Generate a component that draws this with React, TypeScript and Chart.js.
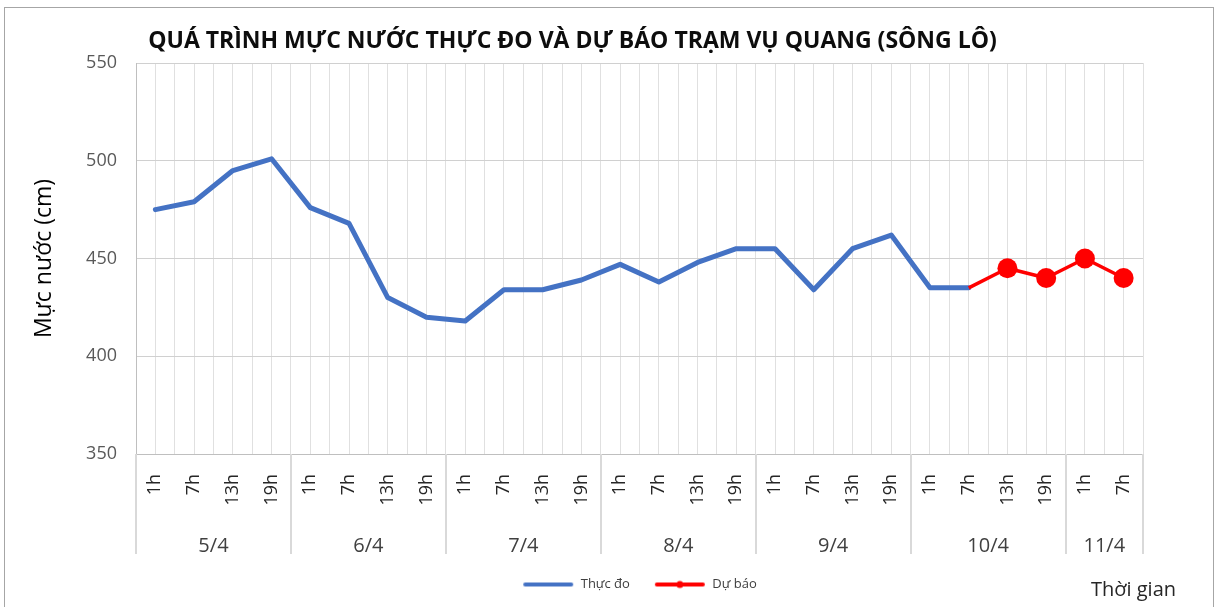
import React, { useEffect, useRef } from "react";
import { Chart, registerables } from "chart.js";

Chart.register(...registerables);

const chartTitle = "QUÁ TRÌNH MỰC NƯỚC THỰC ĐO VÀ DỰ BÁO TRẠM VỤ QUANG (SÔNG LÔ)";
const yAxisTitle = "Mực nước (cm)";
const xAxisTitle = "Thời gian";
const seriesNames = ["Thực đo", "Dự báo"];

const hourLabels = [
  "1h", "7h", "13h", "19h",
  "1h", "7h", "13h", "19h",
  "1h", "7h", "13h", "19h",
  "1h", "7h", "13h", "19h",
  "1h", "7h", "13h", "19h",
  "1h", "7h", "13h", "19h",
  "1h", "7h",
];
const dayLabels = ["5/4", "6/4", "7/4", "8/4", "9/4", "10/4", "11/4"];
const daySpans = [4, 4, 4, 4, 4, 4, 2];

const observed: (number | null)[] = [
  475, 479, 495, 501,
  476, 468, 430, 420,
  418, 434, 434, 439,
  447, 438, 448, 455,
  455, 434, 455, 462,
  435, 435, null, null,
  null, null,
];
const forecast: (number | null)[] = [
  null, null, null, null,
  null, null, null, null,
  null, null, null, null,
  null, null, null, null,
  null, null, null, null,
  null, 435, 445, 440,
  450, 440,
];

const yMin = 350;
const yMax = 550;
const yStep = 50;

const FONT = "'Open Sans', 'Noto Sans', sans-serif";

export default function App() {
  const ref = useRef<HTMLCanvasElement | null>(null);

  useEffect(() => {
    document.body.style.margin = "0";
    document.body.style.overflow = "hidden";
    const canvas = ref.current;
    if (!canvas) return;

    const n = hourLabels.length;
    const boundaries: number[] = [0];
    daySpans.forEach((s) => boundaries.push(boundaries[boundaries.length - 1] + s));
    const centers = daySpans.map((s, i) => boundaries[i] + s / 2);
    const halfTicks: number[] = [];
    for (let k = 0; k <= 2 * n; k++) halfTicks.push(k / 2);
    const firstForecast = forecast.findIndex((v) => v != null);

    const mk = (color: string, dot: boolean) => {
      const c = document.createElement("canvas");
      c.width = 52;
      c.height = 10;
      const g = c.getContext("2d")!;
      g.strokeStyle = color;
      g.lineWidth = 4;
      g.lineCap = "round";
      g.beginPath();
      g.moveTo(3, 5);
      g.lineTo(49, 5);
      g.stroke();
      if (dot) {
        g.fillStyle = color;
        g.beginPath();
        g.arc(26, 5, 3.5, 0, Math.PI * 2);
        g.fill();
      }
      return c;
    };
    const legendImgs = [mk("#4472C4", false), mk("#FF0000", true)];

    const separators = {
      id: "daySeparators",
      afterDraw(chart: any) {
        const xs = chart.scales.xd;
        const top = chart.scales.x.top;
        const bottom = xs.bottom;
        const ctx = chart.ctx;
        ctx.save();
        ctx.strokeStyle = "#d9d9d9";
        ctx.lineWidth = 2;
        boundaries.forEach((b) => {
          const px = Math.round(xs.getPixelForValue(b));
          ctx.beginPath();
          ctx.moveTo(px, top);
          ctx.lineTo(px, bottom);
          ctx.stroke();
        });
        ctx.restore();
      },
    };

    const chart = new Chart(canvas, {
      type: "line",
      data: {
        labels: hourLabels,
        datasets: [
          {
            label: seriesNames[0],
            data: observed,
            borderColor: "#4472C4",
            backgroundColor: "#4472C4",
            borderWidth: 5,
            pointRadius: 0,
            pointHoverRadius: 0,
            tension: 0,
            order: 1,
            xAxisID: "x",
            borderJoinStyle: "round",
            borderCapStyle: "round",
          },
          {
            label: seriesNames[1],
            data: forecast,
            borderColor: "#FF0000",
            backgroundColor: "#FF0000",
            borderWidth: 3.5,
            pointRadius: (ctx: any) => (ctx.dataIndex === firstForecast ? 0 : 10),
            pointBorderWidth: 0,
            pointBackgroundColor: "#FF0000",
            tension: 0,
            order: 0,
            xAxisID: "x",
            borderJoinStyle: "round",
          },
        ],
      },
      options: {
        responsive: false,
        maintainAspectRatio: false,
        animation: false,
        layout: { padding: { top: 63, right: 71, left: 0, bottom: 6 } },
        plugins: {
          title: { display: false },
          tooltip: { enabled: false },
          legend: {
            display: true,
            position: "bottom",
            fullSize: false,
            labels: {
              usePointStyle: true,
              pointStyleWidth: 52,
              boxHeight: 10,
              padding: 24,
              color: "#404040",
              font: { family: FONT, size: 13 },
              sort: (a: any, b: any) => a.datasetIndex - b.datasetIndex,
              generateLabels: (c: any) => {
                const items = (Chart.defaults.plugins.legend.labels as any).generateLabels(c);
                items.forEach((it: any) => {
                  it.pointStyle = legendImgs[it.datasetIndex];
                });
                return items;
              },
            },
          },
        },
        scales: {
          x: {
            type: "category",
            position: "bottom",
            offset: true,
            weight: 0,
            grid: { display: false },
            border: { display: true, color: "#bfbfbf", width: 1 },
            ticks: {
              autoSkip: false,
              minRotation: 90,
              maxRotation: 90,
              padding: 12,
              color: "#262626",
              font: { family: FONT, size: 18 },
            },
            afterFit: (s: any) => {
              s.height = 62;
            },
          },
          xg: {
            type: "linear",
            position: "bottom",
            min: 0,
            max: n,
            weight: -1,
            afterBuildTicks: (axis: any) => {
              axis.ticks = halfTicks.map((v) => ({ value: v }));
            },
            ticks: { display: false },
            grid: { color: "#e0e0e0", lineWidth: 1, drawTicks: false },
            border: { display: false },
            afterFit: (s: any) => {
              s.height = 0;
            },
          },
          xd: {
            type: "linear",
            position: "bottom",
            min: 0,
            max: n,
            weight: 1,
            afterBuildTicks: (axis: any) => {
              axis.ticks = centers.map((v) => ({ value: v }));
            },
            ticks: {
              autoSkip: false,
              maxRotation: 0,
              minRotation: 0,
              padding: 10,
              color: "#404040",
              font: { family: FONT, size: 20 },
              callback: (v: any) => {
                const i = centers.indexOf(Number(v));
                return i >= 0 ? dayLabels[i] : "";
              },
            },
            grid: { display: false },
            border: { display: false },
            afterFit: (s: any) => {
              s.height = 38;
            },
          },
          y: {
            type: "linear",
            min: yMin,
            max: yMax,
            ticks: {
              stepSize: yStep,
              padding: 19,
              color: "#595959",
              font: { family: FONT, size: 18 },
            },
            grid: { color: "#d0d0d0", lineWidth: 1, drawTicks: false },
            border: { display: true, color: "#bfbfbf", width: 1 },
            title: {
              display: true,
              text: yAxisTitle,
              color: "#000000",
              font: { family: FONT, size: 23 },
              padding: { top: 31, bottom: 0 },
            },
            afterFit: (s: any) => {
              s.width = 136;
            },
          },
        },
      },
      plugins: [separators],
    } as any);

    return () => {
      chart.destroy();
    };
  }, []);

  return (
    <div style={{ position: "relative", width: 1214, height: 607, overflow: "hidden" }}>
      <div
        style={{
          position: "absolute",
          left: 4,
          top: 7,
          width: 1210,
          height: 620,
          border: "1px solid #a6a6a6",
          boxSizing: "border-box",
        }}
      />
      <canvas
        ref={ref}
        width={1214}
        height={607}
        style={{ position: "absolute", left: 0, top: 0, width: 1214, height: 607 }}
      />
      <div
        style={{
          position: "absolute",
          left: 0,
          top: 25,
          width: 1145,
          textAlign: "center",
          fontFamily: FONT,
          fontWeight: 700,
          fontSize: 23,
          lineHeight: "28px",
          color: "#0d0d0d",
          whiteSpace: "nowrap",
        }}
      >
        {chartTitle}
      </div>
      <div
        style={{
          position: "absolute",
          left: 1091,
          top: 575,
          fontFamily: FONT,
          fontSize: 20,
          lineHeight: "28px",
          color: "#262626",
          whiteSpace: "nowrap",
        }}
      >
        {xAxisTitle}
      </div>
    </div>
  );
}
